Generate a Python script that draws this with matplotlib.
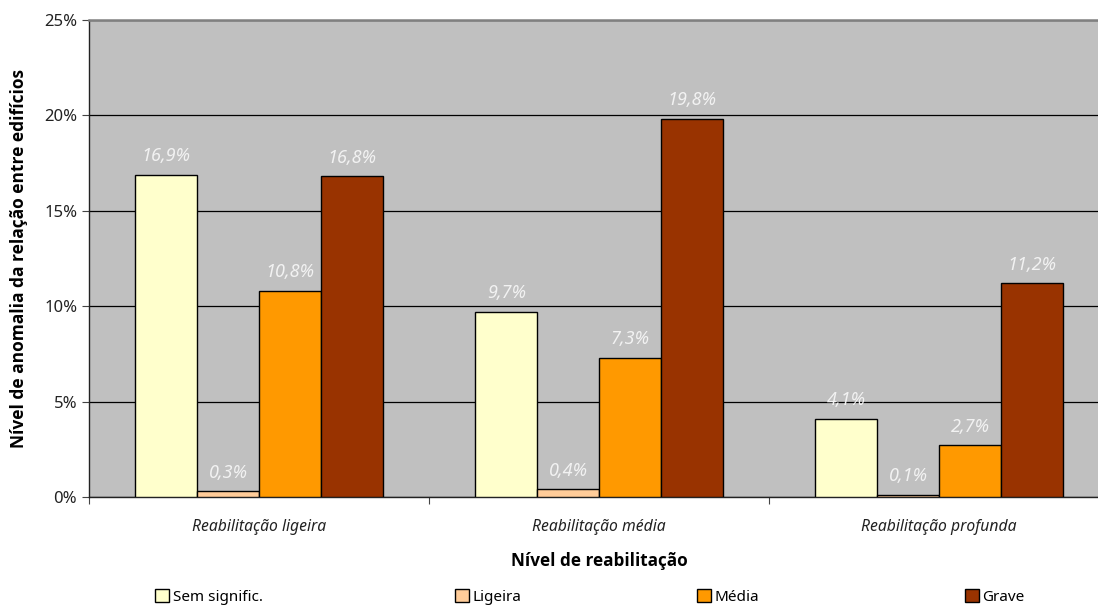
import matplotlib
matplotlib.use("Agg")
import matplotlib.pyplot as plt
import numpy as np
from matplotlib.patches import Patch

categories = ["Reabilitação ligeira", "Reabilitação média", "Reabilitação profunda"]
series_names = ["Sem signific.", "Ligeira", "Média", "Grave"]
sem_signific = [16.9, 9.7, 4.1]
ligeira = [0.3, 0.4, 0.1]
media = [10.8, 7.3, 2.7]
grave = [16.8, 19.8, 11.2]
colors = ["#ffffcc", "#ffcc99", "#ff9900", "#993300"]
yticks = [0, 5, 10, 15, 20, 25]

plt.rcParams['font.family'] = ['Noto Sans', 'DejaVu Sans']
BOLD = ['Open Sans', 'DejaVu Sans']

W, H = 1098, 606
fig = plt.figure(figsize=(W/100, H/100), dpi=100)
left, right, top, bottom = 89, 1109, 20, 497
ax = fig.add_axes([left/W, 1 - bottom/H, (right-left)/W, (bottom-top)/H])
ax.set_facecolor("#c0c0c0")

data = [sem_signific, ligeira, media, grave]
x = np.arange(len(categories))
bw = 0.182
for i, (vals, c) in enumerate(zip(data, colors)):
    xs = x + (i - 1.5) * bw
    ax.bar(xs, vals, width=bw, color=c, edgecolor="black", linewidth=1.0, zorder=3)
    for xi, v in zip(xs, vals):
        ax.annotate(f"{v:.1f}%".replace(".", ","), (xi, v), xytext=(0, 7),
                    textcoords="offset points", ha="center", va="bottom",
                    fontsize=13, style="italic", color="#f2f2f2", zorder=4)

ax.set_xlim(-0.5, 2.5)
ax.set_ylim(0, 25)
ax.set_yticks(yticks)
ax.set_yticklabels([f"{t}%" for t in yticks], fontsize=12, color="#222222")
ax.yaxis.grid(True, color="black", linewidth=0.9, zorder=1)
ax.set_axisbelow(True)

ax.set_xticks([-0.5, 0.5, 1.5, 2.5])
ax.set_xticklabels([])
ax.set_xticks(x, minor=True)
ax.set_xticklabels(categories, minor=True, fontsize=11.3, style="italic", color="#222222")
ax.tick_params(axis="x", which="minor", length=0, pad=16)
ax.tick_params(axis="x", which="major", length=5, direction="out", color="#444444")
ax.tick_params(axis="y", length=5, direction="out", color="#444444")

for s in ["left", "bottom"]:
    ax.spines[s].set_color("#222222")
    ax.spines[s].set_linewidth(1.0)
ax.spines["top"].set_color("#808080")
ax.spines["top"].set_linewidth(1.8)
ax.spines["right"].set_visible(False)

ax.set_ylabel("Nível de anomalia da relação entre edifícios", fontsize=12.5,
              fontweight="bold", family=BOLD)
ax.set_xlabel("Nível de reabilitação", fontsize=12.3, fontweight="bold", labelpad=12,
              family=BOLD)
ax.yaxis.set_label_coords(-61/(right-left), 0.5)

legend_x = [155, 455, 697, 965]
for name, c, lx in zip(series_names, colors, legend_x):
    h = Patch(facecolor=c, edgecolor="black", linewidth=1.0)
    fig.legend([h], [name], loc="center left", bbox_to_anchor=(lx/W, 1 - 597/H),
               frameon=False, fontsize=11, handlelength=0.9, handleheight=0.9,
               handletextpad=0.25, borderaxespad=0, borderpad=0)

fig.savefig("out.png", dpi=100)
